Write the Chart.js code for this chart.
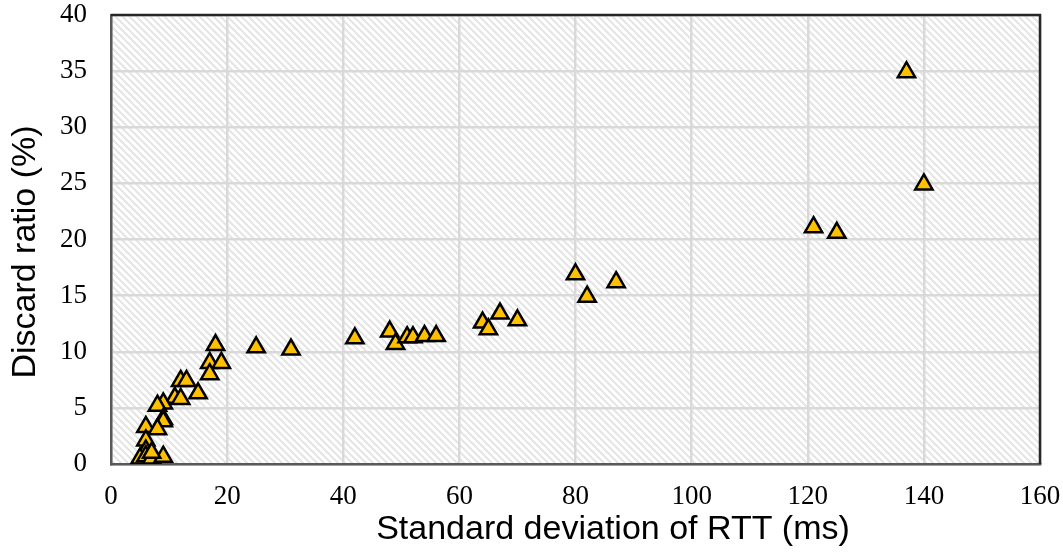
<!DOCTYPE html>
<html>
<head>
<meta charset="utf-8">
<script src="https://cdn.jsdelivr.net/npm/chart.js@4.4.0/dist/chart.umd.min.js"></script>
<style>
    html, body { margin: 0; padding: 0; background: #ffffff; }
    #wrap { width: 1063px; height: 554px; }
</style>
</head>
<body>
<div id="wrap"><canvas id="chart" width="1063" height="554"></canvas></div>
<script>
// Standard deviation of RTT (ms) for each run
const rttStd = [
    137, 140, 121, 125, 80, 82, 87, 64, 65, 67, 70,
    42, 48, 49, 51, 52, 54, 56, 25, 31, 18, 17, 19, 17,
    12, 13, 15, 11, 12, 9, 8, 9, 9, 6, 8, 6, 6, 5, 6, 7, 9, 7
];

// Discard ratio (%) for each run
const discardRatio = [
    34.9, 24.9, 21.1, 20.6, 16.9, 14.9, 16.2, 12.6, 12.0, 13.4, 12.8,
    11.2, 11.8, 10.7, 11.3, 11.3, 11.4, 11.4, 10.4, 10.2, 10.6, 9.0, 9.0, 8.0,
    7.4, 7.4, 6.3, 5.9, 5.8, 5.4, 5.2, 4.0, 3.8, 3.3, 3.1, 2.1, 1.2, 0.5, 0.7, 0.5, 0.65, 1.0
];

const X_TITLE = 'Standard deviation of RTT (ms)';
const Y_TITLE = 'Discard ratio (%)';

// Hatched plot background (light downward diagonal)
function makeHatch() {
    const size = 7;
    const tile = document.createElement('canvas');
    tile.width = size;
    tile.height = size;
    const t = tile.getContext('2d');
    t.fillStyle = '#ffffff';
    t.fillRect(0, 0, size, size);
    t.fillStyle = '#e6e6e6';
    for (let y = 0; y < size; y++) {
        for (let x = 0; x < size; x++) {
            const d = ((x - y) % size + size) % size;
            if (d < 3) t.fillRect(x, y, 1, 1);
        }
    }
    return tile;
}

const plotDecor = {
    id: 'plotDecor',
    beforeDraw(chart) {
        const { ctx, chartArea: a } = chart;
        ctx.save();
        ctx.fillStyle = '#ffffff';
        ctx.fillRect(0, 0, chart.width, chart.height);
        ctx.fillStyle = ctx.createPattern(makeHatch(), 'repeat');
        ctx.fillRect(a.left, a.top, a.right - a.left, a.bottom - a.top);
        ctx.restore();
    },
    afterDraw(chart) {
        const { ctx, chartArea: a } = chart;
        ctx.save();
        // top and right frame
        ctx.strokeStyle = '#262626';
        ctx.lineWidth = 2.5;
        ctx.beginPath();
        ctx.moveTo(a.left, a.top);
        ctx.lineTo(a.right, a.top);
        ctx.lineTo(a.right, a.bottom);
        ctx.stroke();

        // axis titles
        ctx.fillStyle = '#000000';
        ctx.textAlign = 'center';
        ctx.textBaseline = 'middle';
        ctx.font = '34px "Liberation Sans", Arial, sans-serif';
        ctx.fillText(X_TITLE, 613, 530);
        ctx.translate(26, 252);
        ctx.rotate(-Math.PI / 2);
        ctx.fillText(Y_TITLE, 0, 0);
        ctx.restore();
    }
};

const tickFont = { family: '"Liberation Serif", "Times New Roman", serif', size: 27 };

// drop the label overhang so the plot area sits where the padding says
function noOverhang(scale) {
    scale.paddingTop = 0;
    scale.paddingBottom = 0;
    scale.paddingLeft = 0;
    scale.paddingRight = 0;
}

new Chart(document.getElementById('chart'), {
    type: 'scatter',
    data: {
        datasets: [{
            data: rttStd.map((x, i) => ({ x: x, y: discardRatio[i] })),
            pointStyle: 'triangle',
            pointRadius: 10,
            pointHoverRadius: 10,
            backgroundColor: '#FFC000',
            borderColor: '#000000',
            borderWidth: 2.5
        }]
    },
    options: {
        responsive: false,
        animation: false,
        devicePixelRatio: 1,
        layout: { padding: { top: 15, right: 23, bottom: 0, left: 0 } },
        plugins: {
            legend: { display: false },
            tooltip: { enabled: false }
        },
        scales: {
            x: {
                type: 'linear',
                min: 0,
                max: 160,
                ticks: { stepSize: 20, font: tickFont, color: '#000000', padding: 17 },
                grid: { color: '#d9d9d9', lineWidth: 2.5, drawTicks: false },
                border: { color: '#595959', width: 2.5 },
                afterFit(scale) { scale.height = 90; noOverhang(scale); }
            },
            y: {
                type: 'linear',
                min: 0,
                max: 40,
                ticks: { stepSize: 5, font: tickFont, color: '#000000', padding: 24 },
                grid: { color: '#d9d9d9', lineWidth: 2.5, drawTicks: false },
                border: { color: '#595959', width: 2.5 },
                afterFit(scale) { scale.width = 111; noOverhang(scale); }
            }
        }
    },
    plugins: [plotDecor]
});
</script>
</body>
</html>
